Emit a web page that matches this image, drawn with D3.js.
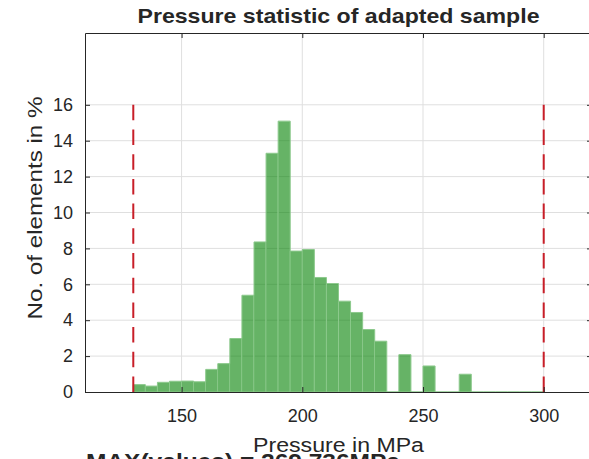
<!DOCTYPE html>
<html>
<head>
<meta charset="utf-8">
<script src="https://cdn.jsdelivr.net/npm/d3@7"></script>
<style>
  html, body { margin: 0; padding: 0; background: #ffffff; overflow: hidden; }
  svg text { font-family: "Liberation Sans", Arial, Helvetica, sans-serif; fill: #262626; }
</style>
</head>
<body>
<svg id="chart" width="589" height="459"></svg>
<script>
// Histogram of element pressures (bin lower edges in MPa, share of elements in %)
const binLower = [130, 135, 140, 145, 150, 155, 160, 165, 170, 175, 180, 185, 190, 195,
                  200, 205, 210, 215, 220, 225, 230, 235, 240, 245, 250, 255, 260, 265,
                  270, 275, 280, 285, 290, 295];
const binWidth = 5;
const sharePercent = [0.41, 0.33, 0.54, 0.60, 0.61, 0.57, 1.26, 1.58, 2.98, 5.39, 8.36, 13.30, 15.09, 7.85,
                      7.94, 6.38, 6.04, 5.06, 4.43, 3.48, 2.83, 0, 2.08, 0, 1.45, 0, 0, 0.99,
                      0, 0, 0, 0, 0, 0];
const xTicks = [150, 200, 250, 300];
const yTicks = [0, 2, 4, 6, 8, 10, 12, 14, 16];
const limitLines = [130, 300];
const limitTop = 16;
const xDomain = [110, 320];
const yDomain = [0, 20];
const maxValue = "269.736";

const titleText = "Pressure statistic of adapted sample";
const xLabelText = "Pressure in MPa";
const yLabelText = "No. of elements in %";

const plot = { left: 85, right: 592, top: 33, bottom: 392 };
const svg = d3.select("#chart");

const x = d3.scaleLinear().domain(xDomain).range([plot.left, plot.right]);
const y = d3.scaleLinear().domain(yDomain).range([plot.bottom, plot.top]);

// grid
const grid = svg.append("g").attr("stroke", "#dfdfdf").attr("stroke-width", 1);
grid.selectAll("line.gx").data(xTicks).join("line")
  .attr("x1", d => x(d)).attr("x2", d => x(d))
  .attr("y1", plot.top).attr("y2", plot.bottom);
grid.selectAll("line.gy").data(yTicks.filter(d => d > 0)).join("line")
  .attr("y1", d => y(d)).attr("y2", d => y(d))
  .attr("x1", plot.left).attr("x2", plot.right);

// histogram bars
const bins = binLower.map((b, i) => ({ x0: b, x1: b + binWidth, v: sharePercent[i] }));
svg.append("g").selectAll("path").data(bins).join("path")
  .attr("d", d => `M${x(d.x0)},${y(0)}V${y(d.v)}H${x(d.x1)}V${y(0)}Z`)
  .attr("fill", "#008000").attr("fill-opacity", 0.6)
  .attr("stroke", "#8cc98c").attr("stroke-width", 1);

// limit lines
svg.append("g").selectAll("line").data(limitLines).join("line")
  .attr("x1", d => x(d)).attr("x2", d => x(d))
  .attr("y1", y(limitTop)).attr("y2", y(0))
  .attr("stroke", "#c81e28").attr("stroke-width", 2)
  .attr("stroke-dasharray", "15.5,9.2");

// axes
const axisColor = "#262626";
function styleAxis(g) {
  g.select(".domain").attr("stroke", axisColor).attr("stroke-width", 1);
  g.selectAll(".tick line").attr("stroke", axisColor).attr("stroke-width", 1);
  g.selectAll(".tick text").attr("font-size", 18).attr("fill", axisColor)
    .attr("font-family", "\"Liberation Sans\", Arial, sans-serif");
}
svg.append("g").attr("transform", `translate(0,${plot.bottom})`)
  .call(d3.axisBottom(x).tickValues(xTicks).tickSize(-5).tickSizeOuter(0).tickPadding(17))
  .call(styleAxis);
svg.append("g").attr("transform", `translate(0,${plot.top})`)
  .call(d3.axisTop(x).tickValues(xTicks).tickSize(-5).tickSizeOuter(0).tickFormat(""))
  .call(styleAxis);
svg.append("g").attr("transform", `translate(${plot.left},0)`)
  .call(d3.axisLeft(y).tickValues(yTicks).tickSize(-5).tickSizeOuter(0).tickPadding(12))
  .call(styleAxis);
svg.append("g").attr("transform", `translate(${plot.right},0)`)
  .call(d3.axisRight(y).tickValues(yTicks).tickSize(-5).tickSizeOuter(0).tickFormat(""))
  .call(styleAxis);

// title and labels
svg.append("text")
  .attr("x", (plot.left + plot.right) / 2).attr("y", 23)
  .attr("text-anchor", "middle").attr("font-size", 21).attr("font-weight", "bold")
  .attr("fill", "#000")
  .attr("textLength", 402).attr("lengthAdjust", "spacingAndGlyphs")
  .text(titleText);

svg.append("text")
  .attr("x", 86).attr("y", 469)
  .attr("font-size", 22).attr("font-weight", "bold").attr("fill", "#000")
  .attr("textLength", 314).attr("lengthAdjust", "spacingAndGlyphs")
  .text(`MAX(values) = ${maxValue}MPa`);

svg.append("text")
  .attr("x", (plot.left + plot.right) / 2).attr("y", 452)
  .attr("text-anchor", "middle").attr("font-size", 20)
  .attr("textLength", 171).attr("lengthAdjust", "spacingAndGlyphs")
  .text(xLabelText);

svg.append("text")
  .attr("transform", "translate(41.5,208) rotate(-90)")
  .attr("text-anchor", "middle").attr("font-size", 20)
  .attr("textLength", 223).attr("lengthAdjust", "spacingAndGlyphs")
  .text(yLabelText);
</script>
</body>
</html>
